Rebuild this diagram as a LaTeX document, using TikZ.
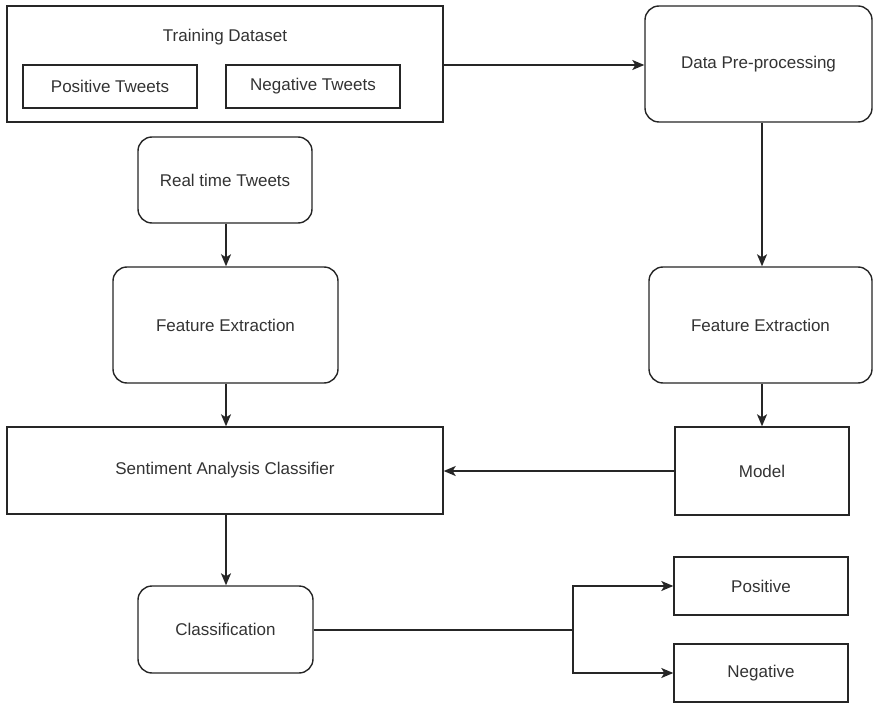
\documentclass[tikz,border=0pt]{standalone}
\usepackage{fontspec}
\setmainfont{Liberation Sans}
\usetikzlibrary{arrows.meta}
\definecolor{linecol}{HTML}{262626}
\definecolor{textcol}{HTML}{333333}
\tikzset{
  base/.style={draw=linecol, line width=1.4pt, fill=white, inner sep=0pt, text=textcol, font=\fontsize{17}{20}\selectfont},
  sqbox/.style={base},
  rbox/.style={base, rounded corners=14pt},
  conn/.style={draw=linecol, line width=1.4pt, -{Stealth[length=12pt,width=10pt,inset=3pt]}},
  plain/.style={draw=linecol, line width=1.4pt},
}
\begin{document}
\begin{tikzpicture}[x=1pt,y=-1pt]
\useasboundingbox (0,0) rectangle (873,703);
% Training dataset
\node[sqbox, minimum width=436pt, minimum height=116pt] (train) at (225,64) {};
\node[text=textcol, font=\fontsize{17}{20}\selectfont] (traintitle) at (225,37) {Training Dataset};
\node[sqbox, minimum width=174pt, minimum height=43pt] (pos) at (110,86.5) {Positive Tweets};
\node[sqbox, minimum width=174pt, minimum height=43pt] (neg) at (313,86.5) {Negative Tweets};
% right column
\node[rbox, minimum width=227pt, minimum height=116pt] (pre) at (758.5,64) {Data Pre-processing};
\node[rbox, minimum width=223pt, minimum height=116pt] (fer) at (760.5,325) {Feature Extraction};
\node[sqbox, minimum width=174pt, minimum height=88pt] (model) at (762,471) {Model};
% left column
\node[rbox, minimum width=174pt, minimum height=86pt] (rt) at (225,180) {Real time Tweets};
\node[rbox, minimum width=225pt, minimum height=116pt] (fel) at (225.5,325) {Feature Extraction};
\node[sqbox, minimum width=436pt, minimum height=87pt] (sac) at (225,470.5) {Sentiment Analysis Classifier};
\node[rbox, minimum width=175pt, minimum height=87pt] (cls) at (225.5,629.5) {Classification};
% outputs
\node[sqbox, minimum width=174pt, minimum height=58pt] (posout) at (761,586) {Positive};
\node[sqbox, minimum width=174pt, minimum height=58pt] (negout) at (761,673) {Negative};
\coordinate (split) at (573,630);
% connectors
\draw[conn] (train.east |- 0,65) -- (pre.west |- 0,65);
\draw[conn] (pre.south -| 762,0) -- (fer.north -| 762,0);
\draw[conn] (fer.south -| 762,0) -- (model.north -| 762,0);
\draw[conn] (model.west) -- (sac.east |- model.west);
\draw[conn] (rt.south -| 226,0) -- (fel.north -| 226,0);
\draw[conn] (fel.south -| 226,0) -- (sac.north -| 226,0);
\draw[conn] (sac.south -| 226,0) -- (cls.north -| 226,0);
\draw[plain] (cls.east |- split) -- (split);
\draw[conn] (split) |- (posout.west);
\draw[conn] (split) |- (negout.west);
\end{tikzpicture}
\end{document}
